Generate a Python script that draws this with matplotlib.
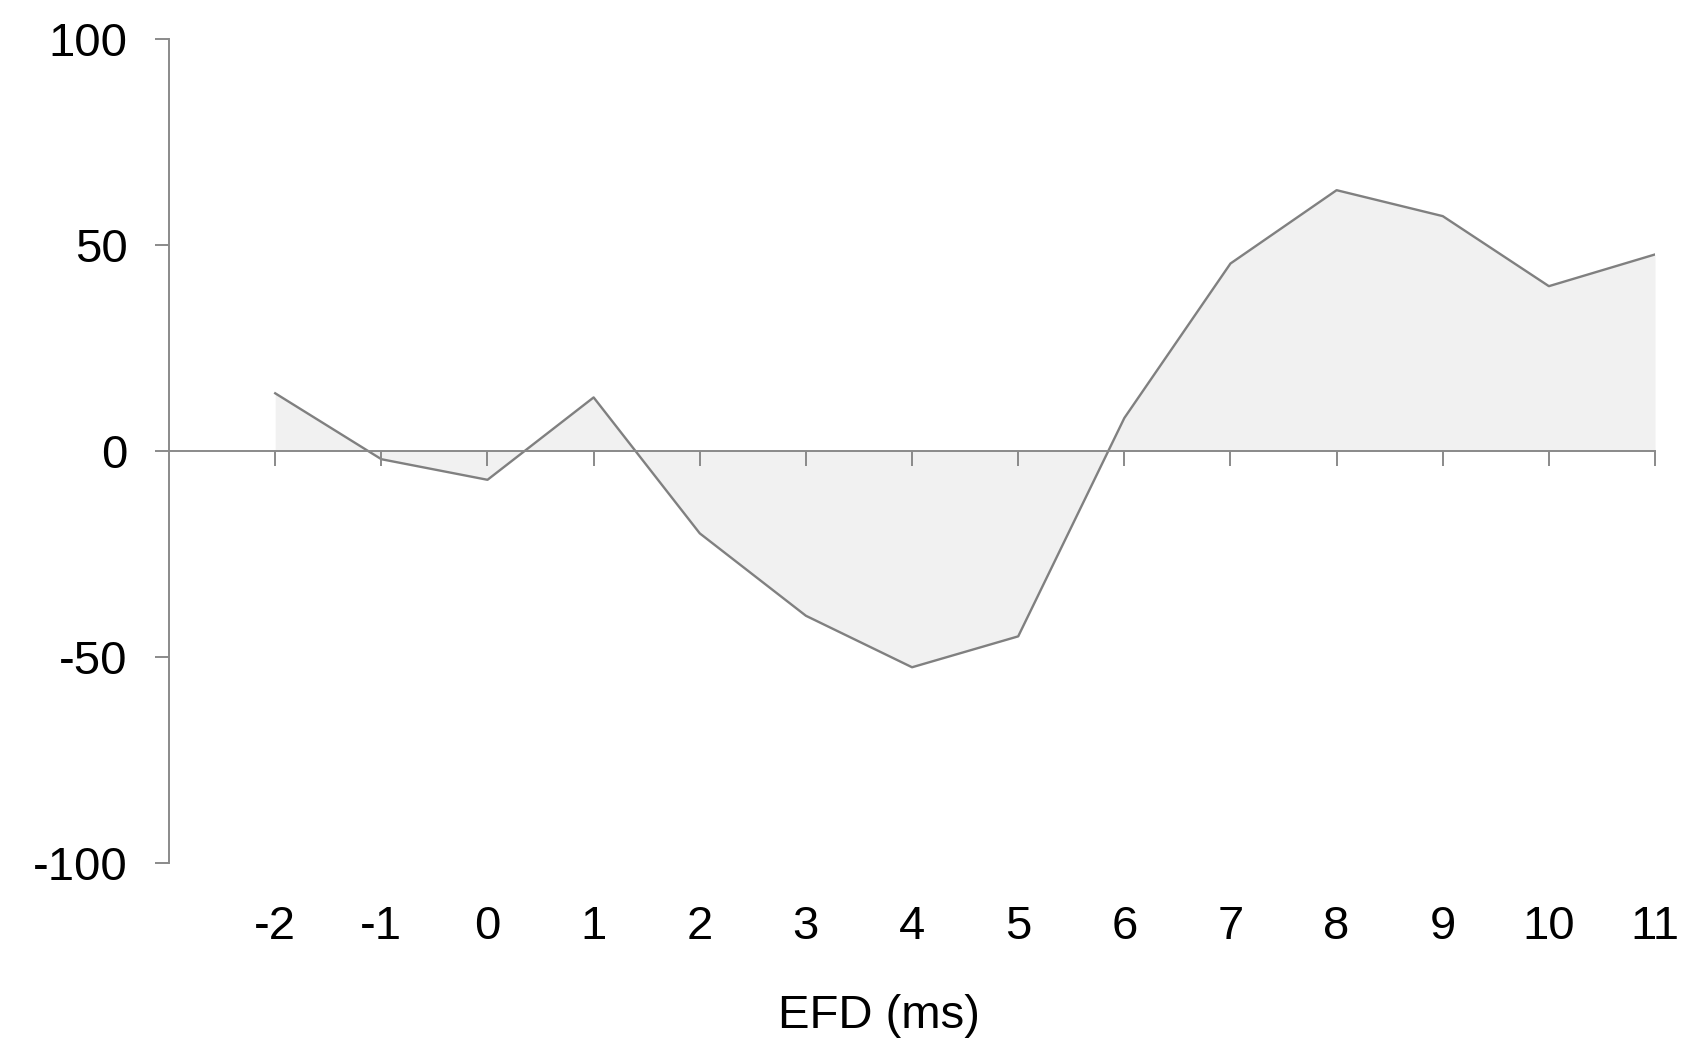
import matplotlib.pyplot as plt

# EFD offsets (ms) and the response at each one
efd_ms = [-2, -1, 0, 1, 2, 3, 4, 5, 6, 7, 8, 9, 10, 11]
response = [14, -2, -7, 13, -20, -40, -52.5, -45, 8, 45.5, 63.3, 57, 40, 47.7]
y_ticks = [-100, -50, 0, 50, 100]

line_col = '#808080'
axis_col = '#8a8a8a'
fill_col = '#f1f1f1'


def main():
    plt.rcParams['font.family'] = ['Liberation Sans', 'DejaVu Sans']
    plt.rcParams['axes.unicode_minus'] = False
    fig = plt.figure(figsize=(16.84, 10.45), dpi=100)
    ax = fig.add_axes([0.1004, 0.1742, 0.8824, 0.7885])

    ax.fill_between(efd_ms, response, 0, color=fill_col, linewidth=0, zorder=1)
    ax.plot(efd_ms, response, color=line_col, linewidth=1.7, zorder=3)

    ax.set_xlim(-3, 11)
    ax.set_ylim(-100, 100)

    # left axis only
    for side in ['top', 'right', 'bottom']:
        ax.spines[side].set_visible(False)
    ax.spines['left'].set_color(axis_col)
    ax.spines['left'].set_linewidth(1.4)
    ax.set_yticks(y_ticks)
    ax.tick_params(axis='y', direction='out', length=10, width=1.4,
                   color=axis_col, labelsize=34, pad=20)

    # labels sit at the bottom, without tick marks
    ax.set_xticks(efd_ms)
    ax.set_xticklabels([str(v) for v in efd_ms])
    ax.tick_params(axis='x', length=0, labelsize=34, pad=30)

    # zero line with its ticks
    zero_ax = ax.secondary_xaxis(0, transform=ax.transData)
    zero_ax.set_xticks(efd_ms)
    zero_ax.tick_params(axis='x', direction='out', length=11, width=1.4,
                        color=axis_col, labelbottom=False)
    zero_ax.spines['bottom'].set_color(axis_col)
    zero_ax.spines['bottom'].set_linewidth(1.4)
    zero_ax.set_zorder(4)

    ax.set_xlabel('EFD (ms)', fontsize=34)
    ax.xaxis.label.set_verticalalignment('center')
    ax.xaxis.set_label_coords(0.478, -0.186)

    fig.savefig('out.png', dpi=100, facecolor='white')


if __name__ == "__main__":
    main()
